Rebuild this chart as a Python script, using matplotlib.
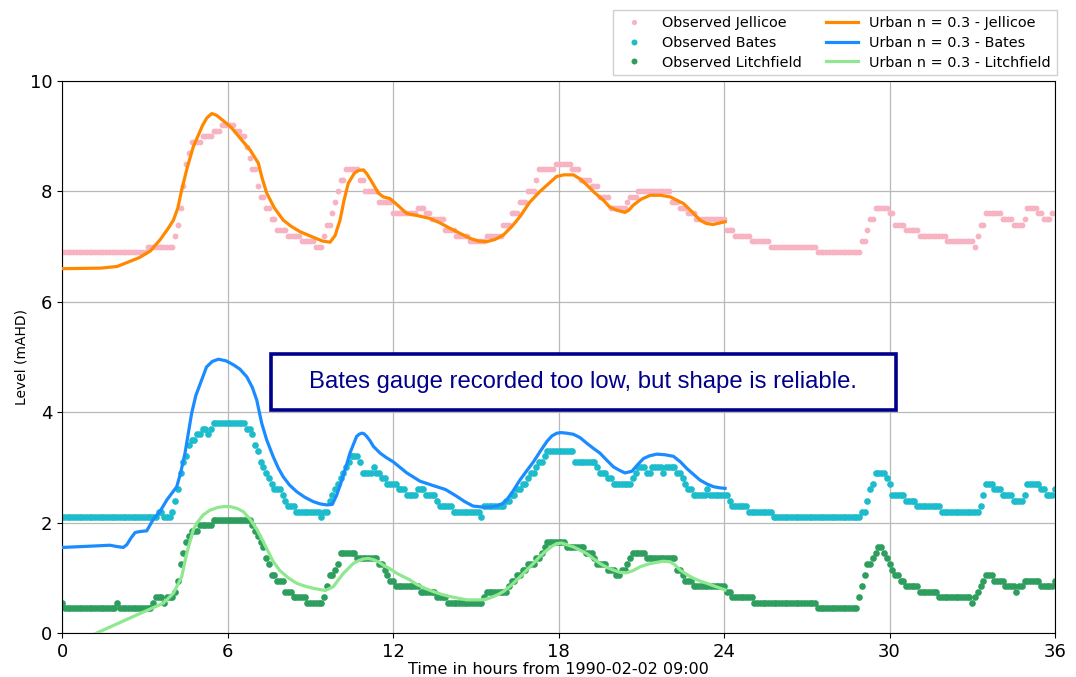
import numpy as np
import matplotlib
matplotlib.use("Agg")
import matplotlib.pyplot as plt
from matplotlib.patches import Rectangle

# ---------------- data ----------------
# Observed gauges: step levels (time of change in hours, level in mAHD), sampled every 0.1 h
obs_dt = 0.1
obs_end = 36.0

jel_step_t = [0, 3.05, 4.1, 4.2, 4.3, 4.4, 4.5, 4.6, 4.7, 5.1, 5.5, 5.8, 6.3, 6.5, 6.7, 6.8, 6.9,
              7.1, 7.2, 7.4, 7.6, 7.8, 8.2, 8.7, 9.2, 9.5, 9.6, 9.8, 9.9, 10.0, 10.1, 10.3, 10.8,
              11.0, 11.5, 12.0, 12.9, 13.2, 13.4, 13.9, 14.3, 14.8, 15.4, 16.0, 16.3, 16.6, 16.9,
              17.2, 17.3, 17.9, 18.5, 18.8, 19.2, 19.5, 19.9, 20.5, 20.6, 20.9, 22.1, 22.4, 22.7,
              23.0, 24.1, 24.4, 25.0, 25.7, 27.35, 28.95, 29.15, 29.3, 29.45, 30.0, 30.15, 30.6,
              31.1, 32.05, 33.05, 33.2, 33.3, 33.45, 34.05, 34.45, 34.85, 35.0, 35.4, 35.6, 35.9]
jel_step_v = [6.9, 7.0, 7.2, 7.4, 7.7, 8.1, 8.5, 8.7, 8.9, 9.0, 9.1, 9.2, 9.1, 9.0, 8.8, 8.6, 8.4,
              8.1, 7.9, 7.7, 7.5, 7.3, 7.2, 7.1, 7.0, 7.2, 7.4, 7.6, 7.8, 8.0, 8.2, 8.4, 8.2,
              8.0, 7.8, 7.6, 7.7, 7.6, 7.5, 7.3, 7.2, 7.1, 7.2, 7.4, 7.6, 7.8, 8.0,
              8.2, 8.4, 8.5, 8.4, 8.2, 8.1, 7.9, 7.7, 7.8, 7.9, 8.0, 7.8, 7.7, 7.6,
              7.5, 7.3, 7.2, 7.1, 7.0, 6.9, 7.1, 7.3, 7.5, 7.7, 7.6, 7.4, 7.3,
              7.2, 7.1, 7.0, 7.2, 7.4, 7.6, 7.5, 7.4, 7.5, 7.7, 7.6, 7.5, 7.6]

bat_step_t = [0, 3.45, 3.7, 4.0, 4.1, 4.2, 4.3, 4.4, 4.5, 4.6, 4.7, 4.9, 5.05, 5.3, 5.4, 5.5,
              6.65, 6.85, 6.95, 7.05, 7.15, 7.25, 7.35, 7.45, 7.55, 7.7, 7.95, 8.05, 8.2, 8.5,
              9.35, 9.45, 9.7, 9.8, 9.9, 9.95, 10.05, 10.15, 10.25, 10.35, 10.45, 10.8, 10.9,
              11.25, 11.35, 11.6, 11.8, 12.15, 12.5, 12.9, 13.15, 13.55, 13.7, 14.15, 15.15,
              15.25, 16.1, 16.3, 16.5, 16.7, 16.85, 17.0, 17.15, 17.3, 17.45, 17.6, 18.55,
              19.35, 19.45, 19.8, 19.95, 20.65, 20.75, 20.85, 21.2, 21.35, 21.75, 21.85, 22.3,
              22.45, 22.55, 22.65, 22.85, 23.35, 23.45, 24.15, 24.3, 24.85, 25.75, 28.95, 29.15,
              29.3, 29.4, 29.5, 29.85, 29.95, 30.05, 30.55, 30.95, 31.85, 33.25, 33.35, 33.45,
              33.75, 34.05, 34.45, 34.85, 34.95, 35.45, 35.65, 35.95]
bat_step_v = [2.1, 2.2, 2.1, 2.2, 2.4, 2.6, 2.9, 3.1, 3.2, 3.4, 3.5, 3.6, 3.7, 3.6, 3.7, 3.8,
              3.7, 3.6, 3.4, 3.3, 3.1, 3.0, 2.9, 2.8, 2.7, 2.6, 2.5, 2.4, 2.3, 2.2,
              2.1, 2.2, 2.4, 2.5, 2.6, 2.7, 2.8, 2.9, 3.0, 3.1, 3.2, 3.1, 2.9,
              3.0, 2.9, 2.8, 2.7, 2.6, 2.5, 2.6, 2.5, 2.4, 2.3, 2.2, 2.1,
              2.3, 2.4, 2.5, 2.6, 2.7, 2.8, 2.9, 3.0, 3.1, 3.2, 3.3, 3.1,
              3.0, 2.9, 2.8, 2.7, 2.8, 2.9, 3.0, 2.9, 3.0, 2.9, 3.0, 2.9,
              2.8, 2.7, 2.6, 2.5, 2.6, 2.5, 2.4, 2.3, 2.2, 2.1, 2.2, 2.4,
              2.6, 2.7, 2.9, 2.8, 2.7, 2.5, 2.4, 2.3, 2.2, 2.3, 2.5, 2.7,
              2.6, 2.5, 2.4, 2.5, 2.7, 2.6, 2.5, 2.6]

lit_step_t = [0, 0.1, 1.95, 2.05, 3.3, 3.4, 3.65, 3.8, 4.05, 4.15, 4.25, 4.35, 4.45, 4.6, 4.7,
              4.95, 5.5, 6.85, 6.95, 7.05, 7.15, 7.25, 7.35, 7.45, 7.55, 7.8, 8.05, 8.4, 8.85,
              9.45, 9.55, 9.7, 9.85, 9.95, 10.1, 10.65, 11.5, 11.65, 11.75, 11.9, 12.1, 12.95,
              13.6, 13.95, 15.25, 15.35, 16.15, 16.3, 16.45, 16.65, 16.9, 17.2, 17.35, 17.45,
              17.55, 18.3, 18.95, 19.25, 19.4, 19.75, 20.05, 20.25, 20.45, 20.55, 20.7, 21.15,
              22.3, 22.45, 22.55, 22.85, 24.05, 24.3, 25.05, 27.35, 28.85, 28.95, 29.05, 29.2,
              29.35, 29.45, 29.55, 29.75, 29.85, 29.95, 30.1, 30.2, 30.35, 30.55, 31.05, 31.8,
              32.95, 33.05, 33.15, 33.25, 33.35, 33.5, 33.75, 34.15, 34.55, 34.7, 34.85, 35.45,
              35.95]
lit_step_v = [0.55, 0.45, 0.55, 0.45, 0.55, 0.65, 0.55, 0.65, 0.75, 0.95, 1.25, 1.45, 1.65, 1.75, 1.85,
              1.95, 2.05, 1.95, 1.85, 1.75, 1.65, 1.55, 1.35, 1.25, 1.05, 0.95, 0.75, 0.65, 0.55,
              0.65, 0.85, 1.05, 1.15, 1.25, 1.45, 1.35, 1.25, 1.15, 1.05, 0.95, 0.85, 0.75,
              0.65, 0.55, 0.65, 0.75, 0.85, 0.95, 1.05, 1.15, 1.25, 1.35, 1.45, 1.55,
              1.65, 1.55, 1.45, 1.35, 1.25, 1.15, 1.05, 1.15, 1.25, 1.35, 1.45, 1.35,
              1.15, 1.05, 0.95, 0.85, 0.75, 0.65, 0.55, 0.45, 0.65, 0.85, 1.05, 1.25,
              1.35, 1.45, 1.55, 1.45, 1.35, 1.25, 1.15, 1.05, 0.95, 0.85, 0.75, 0.65,
              0.55, 0.65, 0.75, 0.85, 0.95, 1.05, 0.95, 0.85, 0.75, 0.85, 0.95, 0.85,
              0.95]

# Modelled levels (Urban n = 0.3)
mod_jel_t = [0, 1.4, 2.0, 2.35, 2.8, 3.2, 3.55, 3.85, 4.04, 4.2, 4.34, 4.55, 4.76, 5.1, 5.25,
             5.43, 5.6, 5.97, 6.15, 6.4, 6.6, 6.82, 7.12, 7.25, 7.42, 7.7, 8.02, 8.3, 8.63, 9.2,
             9.45, 9.72, 9.9, 10.08, 10.23, 10.38, 10.6, 10.75, 10.93, 11.05, 11.2, 11.47, 11.65,
             11.89, 12.1, 12.5, 12.9, 13.34, 13.7, 14.07, 14.79, 15.1, 15.4, 15.7, 16.0, 16.3,
             16.6, 16.95, 17.33, 17.93, 18.2, 18.54, 18.8, 19.02, 19.3, 19.63, 19.85, 20.11,
             20.41, 20.55, 20.71, 21.0, 21.32, 21.7, 22.05, 22.53, 22.8, 23.13, 23.35, 23.6, 24.04]
mod_jel_v = [6.6, 6.61, 6.64, 6.71, 6.8, 6.92, 7.12, 7.33, 7.48, 7.7, 8.03, 8.45, 8.81, 9.2, 9.33,
             9.41, 9.38, 9.23, 9.15, 9.0, 8.88, 8.75, 8.51, 8.25, 7.97, 7.7, 7.48, 7.37, 7.27, 7.15,
             7.1, 7.08, 7.2, 7.48, 7.85, 8.15, 8.33, 8.38, 8.39, 8.32, 8.2, 7.97, 7.9,
             7.87, 7.78, 7.6, 7.56, 7.51, 7.43, 7.33, 7.15, 7.1, 7.09, 7.13, 7.21, 7.36,
             7.54, 7.8, 8.0, 8.27, 8.3, 8.3, 8.22, 8.12, 7.98, 7.84, 7.72, 7.66,
             7.62, 7.66, 7.75, 7.86, 7.93, 7.93, 7.9, 7.78, 7.65, 7.48, 7.42, 7.4, 7.45]

mod_bat_t = [0, 0.9, 1.74, 1.95, 2.22, 2.35, 2.5, 2.65, 2.85, 3.07, 3.3, 3.55, 3.8, 4.16, 4.3,
             4.46, 4.58, 4.7, 4.85, 5.0, 5.24, 5.45, 5.67, 5.95, 6.21, 6.45, 6.7, 6.9, 7.06, 7.24,
             7.42, 7.66, 7.85, 8.02, 8.25, 8.51, 8.8, 9.11, 9.35, 9.6, 9.8, 9.96, 10.1, 10.26,
             10.44, 10.68, 10.77, 10.87, 10.95, 11.05, 11.17, 11.29, 11.53, 11.75, 12.01, 12.5,
             12.98, 13.46, 13.9, 14.3, 14.6, 14.9, 15.27, 15.5, 15.76, 15.95, 16.12, 16.35, 16.6,
             16.85, 17.09, 17.35, 17.58, 17.76, 17.94, 18.1, 18.3, 18.54, 18.78, 19.02, 19.25,
             19.5, 19.75, 19.99, 20.2, 20.41, 20.66, 20.87, 21.08, 21.3, 21.56, 21.85, 22.17,
             22.42, 22.65, 22.9, 23.13, 23.38, 23.62, 23.85, 24.04]
mod_bat_v = [1.55, 1.57, 1.59, 1.57, 1.55, 1.6, 1.72, 1.82, 1.84, 1.85, 2.05, 2.2, 2.41, 2.65, 2.9,
             3.26, 3.62, 3.98, 4.3, 4.5, 4.82, 4.92, 4.96, 4.93, 4.86, 4.78, 4.64, 4.45, 4.22, 3.8,
             3.5, 3.19, 2.98, 2.83, 2.68, 2.56, 2.46, 2.38, 2.34, 2.32, 2.33, 2.5, 2.7, 2.95,
             3.26, 3.56, 3.6, 3.62, 3.61, 3.56, 3.48, 3.38, 3.26, 3.18, 3.1, 2.9,
             2.75, 2.67, 2.6, 2.48, 2.38, 2.3, 2.28, 2.28, 2.3, 2.34, 2.41, 2.57, 2.77,
             2.94, 3.1, 3.3, 3.47, 3.57, 3.62, 3.63, 3.62, 3.6, 3.54, 3.44, 3.35,
             3.26, 3.13, 3.01, 2.95, 2.9, 2.93, 3.05, 3.16, 3.21, 3.24, 3.23, 3.2,
             3.1, 2.98, 2.87, 2.77, 2.7, 2.65, 2.63, 2.62]

mod_lit_t = [0, 1.26, 2.59, 3.67, 4.04, 4.34, 4.52, 4.76, 4.9, 5.12, 5.35, 5.61, 5.85, 6.09, 6.33,
             6.57, 6.82, 7.06, 7.25, 7.42, 7.65, 7.9, 8.2, 8.51, 8.8, 9.11, 9.54, 9.84, 10.0, 10.2,
             10.4, 10.56, 10.75, 10.92, 11.1, 11.29, 11.47, 11.65, 11.9, 12.14, 12.62, 12.86,
             13.16, 13.46, 13.76, 14.07, 14.37, 14.67, 14.95, 15.22, 15.43, 15.64, 15.82, 16.0,
             16.25, 16.49, 16.79, 17.09, 17.33, 17.58, 17.76, 17.94, 18.12, 18.3, 18.54, 18.78,
             19.02, 19.26, 19.5, 19.75, 19.99, 20.22, 20.47, 20.7, 20.96, 21.26, 21.56, 21.8,
             22.05, 22.23, 22.41, 22.65, 22.9, 23.14, 23.38, 23.7, 24.04]
mod_lit_v = [-0.3, 0.0, 0.3, 0.54, 0.72, 1.02, 1.44, 1.87, 2.0, 2.14, 2.22, 2.27, 2.29, 2.29, 2.26,
             2.2, 2.06, 1.88, 1.7, 1.53, 1.3, 1.13, 1.0, 0.9, 0.85, 0.81, 0.77, 0.84, 0.95, 1.08,
             1.18, 1.26, 1.31, 1.34, 1.35, 1.33, 1.29, 1.23, 1.16, 1.08, 0.96, 0.88,
             0.81, 0.75, 0.7, 0.66, 0.63, 0.6, 0.6, 0.6, 0.62, 0.66, 0.7, 0.75,
             0.85, 0.96, 1.11, 1.26, 1.39, 1.5, 1.57, 1.62, 1.63, 1.6, 1.56, 1.5,
             1.44, 1.35, 1.26, 1.19, 1.14, 1.1, 1.09, 1.13, 1.2, 1.25, 1.28, 1.3,
             1.29, 1.23, 1.14, 1.06, 0.99, 0.94, 0.9, 0.84, 0.78]

x_ticks = [0, 6, 12, 18, 24, 30, 36]
y_ticks = [0, 2, 4, 6, 8, 10]
x_label = "Time in hours from 1990-02-02 09:00"
y_label = "Level (mAHD)"
note_text = "Bates gauge recorded too low, but shape is reliable."


def sample_steps(step_t, step_v):
    t = np.round(np.arange(0, obs_end + obs_dt / 2, obs_dt), 3)
    idx = np.searchsorted(np.array(step_t), t + 1e-9, side="right") - 1
    return t, np.array(step_v)[idx]


# ---------------- plot ----------------
fig = plt.figure(figsize=(10.76, 6.77), dpi=100)
ax = fig.add_axes([62 / 1076, 44 / 677, 993 / 1076, 552 / 677])

c_obs_j = "#f7b3c2"
c_obs_b = "#1cbccc"
c_obs_l = "#2e9e5e"
c_mod_j = "#ff8800"
c_mod_b = "#1a8cff"
c_mod_l = "#8fe88f"

t, v = sample_steps(jel_step_t, jel_step_v)
h1, = ax.plot(t, v, linestyle="none", marker="o", ms=4.2, color=c_obs_j, mec="none",
              label="Observed Jellicoe", zorder=2)
t, v = sample_steps(bat_step_t, bat_step_v)
h2, = ax.plot(t, v, linestyle="none", marker="o", ms=4.8, color=c_obs_b, mec="none",
              label="Observed Bates", zorder=2)
t, v = sample_steps(lit_step_t, lit_step_v)
h3, = ax.plot(t, v, linestyle="none", marker="o", ms=4.8, color=c_obs_l, mec="none",
              label="Observed Litchfield", zorder=2)

h4, = ax.plot(mod_jel_t, mod_jel_v, color=c_mod_j, lw=2.3, label="Urban n = 0.3 - Jellicoe",
              zorder=3, solid_joinstyle="round")
h5, = ax.plot(mod_bat_t, mod_bat_v, color=c_mod_b, lw=2.3, label="Urban n = 0.3 - Bates",
              zorder=3, solid_joinstyle="round")
h6, = ax.plot(mod_lit_t, mod_lit_v, color=c_mod_l, lw=2.3, label="Urban n = 0.3 - Litchfield",
              zorder=3, solid_joinstyle="round")

ax.set_xlim(0, 36)
ax.set_ylim(0, 10)
ax.set_xticks(x_ticks)
ax.set_yticks(y_ticks)
ax.tick_params(labelsize=13)
ax.grid(True, color="#b8b8b8", lw=0.9)
ax.set_axisbelow(True)
ax.set_xlabel(x_label, fontsize=11.5, labelpad=1)
ax.set_ylabel(y_label, fontsize=10, labelpad=1)

# note box
ax.add_patch(Rectangle((0.2105, 0.404), 0.629, 0.1014, transform=ax.transAxes,
                       facecolor="white", edgecolor="#00008b", lw=2.6, zorder=5))
ax.text(0.525, 0.455, note_text, transform=ax.transAxes, ha="center", va="center",
        fontsize=17.2, color="#00008b", family=["Liberation Sans", "DejaVu Sans"], zorder=6)

fig.legend(handles=[h1, h2, h3, h4, h5, h6], ncol=2, loc="upper right",
           bbox_to_anchor=(1064 / 1076, 1 - 3 / 677), fontsize=10.4, frameon=True,
           framealpha=1.0, edgecolor="#d0d0d0", fancybox=False, columnspacing=1.7,
           handlelength=2.2, borderpad=0.4, labelspacing=0.4, markerscale=0.9)

fig.savefig("out.png", dpi=100)
